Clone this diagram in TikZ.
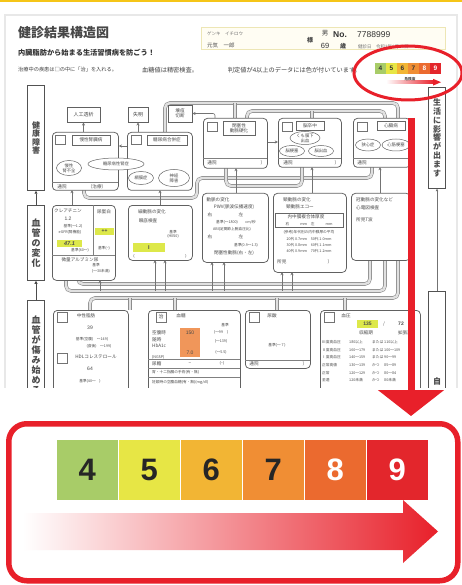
\documentclass[tikz,border=0pt]{standalone}
\usepackage{fontspec}
\setmainfont{Liberation Sans}
\newfontfamily\cjk{Noto Sans CJK JP}
\usetikzlibrary{shapes.geometric,arrows.meta}
\definecolor{c4}{HTML}{A8CC68}
\definecolor{c5}{HTML}{E7E645}
\definecolor{c6}{HTML}{F2B534}
\definecolor{c7}{HTML}{F08E34}
\definecolor{c8}{HTML}{EB6A2F}
\definecolor{c9}{HTML}{E3262C}
\definecolor{redc}{HTML}{E8202A}
\definecolor{topy}{HTML}{F5C518}
\definecolor{hly}{HTML}{DDE84A}
\definecolor{hlo}{HTML}{F0965A}
\definecolor{ink}{HTML}{4A4A4A}
\definecolor{nameb}{HTML}{EDE6B5}
\definecolor{namef}{HTML}{FFFDF3}
\begin{document}
\begin{tikzpicture}[x=1pt,y=-1pt,
  doc/.style={font=\cjk\fontsize{4.6}{5.2}\selectfont, text=ink, inner sep=0pt, align=center},
  docs/.style={font=\cjk\fontsize{3.7}{4.3}\selectfont, text=ink, inner sep=0pt, align=left},
  bx/.style={draw=black!62, line width=0.75pt, rounded corners=4pt, fill=white, inner sep=0pt, anchor=north west},
  chk/.style={draw=black!55, line width=0.5pt, fill=white, minimum size=9.5pt, inner sep=0pt},
  ttl/.style={draw=black!60, line width=0.5pt, fill=white, inner sep=0.6pt, font=\cjk\fontsize{4.6}{5}\selectfont, text=ink, align=center},
  el/.style={ellipse, draw=black!60, line width=0.5pt, fill=white, inner sep=0pt, font=\cjk\fontsize{4.3}{4.8}\selectfont, text=ink, align=center},
  pipe/.style={draw=black!45, double=black!12, double distance=2.4pt, line width=0.6pt, rounded corners=5pt},
  tline/.style={draw=black!50, line width=0.45pt},
  uparr/.style={draw=black!55, line width=0.6pt, -{Stealth[length=3.2pt,width=3pt]}},
  lab/.style={draw=black!68, line width=0.75pt, fill=white, minimum width=17pt, inner sep=0pt, text width=10pt, align=center, font=\cjk\bfseries\fontsize{8}{8.6}\selectfont, text=ink},
  hl/.style={fill=hly, inner sep=0pt, anchor=north west},
]
\useasboundingbox (0,0) rectangle (462,585);
\fill[topy] (0,0) rectangle (462,2.5);
\fill[black!9] (4,14) rectangle (458,388);
\fill[white] (6,16) rectangle (456,388);

\begin{scope}
\clip (6,16) rectangle (456,387);
% ---------- header
\node[anchor=west,inner sep=0pt,font=\cjk\bfseries\fontsize{13}{14}\selectfont,text=black!72] (title) at (18,33) {健診結果構造図};
\node[anchor=west,inner sep=0pt,font=\cjk\bfseries\fontsize{7.2}{8}\selectfont,text=black!80] (sub) at (18,53) {内臓脂肪から始まる生活習慣病を防ごう！};
\node[anchor=west,inner sep=0pt,font=\cjk\fontsize{5.2}{6}\selectfont,text=black!75] (n1) at (18,70) {治療中の疾患は□の中に「治」を入れる。};
\node[anchor=west,inner sep=0pt,font=\cjk\fontsize{6.2}{7}\selectfont,text=black!75] (n2) at (142,70) {血糖値は精密検査。};
\node[anchor=east,inner sep=0pt,font=\cjk\fontsize{6.2}{7}\selectfont,text=black!75] (n3) at (361,70) {判定値が4以上のデータには色が付いています。};
\node[draw=nameb, line width=0.7pt, fill=namef, anchor=north west, minimum width=244pt, minimum height=22pt, inner sep=0pt] (namebox) at (201,27) {};
\node[anchor=west,inner sep=0pt,font=\cjk\fontsize{4.5}{5}\selectfont,text=black!55] (kana) at (207,34) {ゲンキ　イチロウ};
\node[anchor=west,inner sep=0pt,font=\cjk\fontsize{5.5}{6}\selectfont,text=black!70] (nm) at (207,45.5) {元気　一郎};
\node[inner sep=0pt,font=\cjk\bfseries\fontsize{6}{6}\selectfont,text=black!75] (sama) at (310,40) {様};
\node[inner sep=0pt,font=\cjk\fontsize{6.5}{7}\selectfont,text=black!75] (sex) at (325,33.5) {男};
\node[inner sep=0pt,font=\fontsize{7.5}{8}\selectfont,text=black!80] (age) at (325,46) {69};
\node[inner sep=0pt,font=\cjk\bfseries\fontsize{6}{6}\selectfont,text=black!75] (sai) at (343,46) {歳};
\node[anchor=west,inner sep=0pt,font=\bfseries\fontsize{8.5}{9}\selectfont,text=black!80] (no) at (333,35) {No.};
\node[anchor=west,inner sep=0pt,font=\fontsize{8.5}{9}\selectfont,text=black!80] (num) at (357,35) {7788999};
\node[anchor=west,inner sep=0pt,font=\cjk\fontsize{4.5}{5}\selectfont,text=black!55] (date) at (358,47) {健診日　令和3年6月10日};
% small colour strip
\foreach \n/\c/\t [count=\i from 0] in {4/c4/black!80,5/c5/black!80,6/c6/black!80,7/c7/black!80,8/c8/white,9/c9/white}
  \node[fill=\c, minimum width=10.6pt, minimum height=11pt, inner sep=0pt, text=\t, font=\bfseries\fontsize{6.5}{7}\selectfont, anchor=north west] (s\n) at ({375+\i*11},63) {\n};
\shade[left color=white,right color=redc] (386,81) rectangle (434,83.4);
\fill[redc] (433,78.8) -- (441,82.2) -- (433,85.6) -- cycle;
\node[inner sep=0pt,font=\cjk\bfseries\fontsize{3.6}{4}\selectfont,text=black!70] (kiken) at (410,79) {危険度};

% ---------- pipes
\draw[pipe] (165,132) -- (165,103) -- (398,103) -- (398,118);
\draw[pipe] (247,118) -- (247,111) -- (385,111) -- (385,118);
\draw[pipe] (235,103) -- (235,118);
\draw[pipe] (312,111) -- (312,118);
\draw[pipe] (84,190) -- (84,198) -- (197,198) -- (197,178) -- (372,178) -- (372,167);
\draw[pipe] (226,168) -- (226,186) -- (302,186) -- (302,167);
\draw[pipe] (78,280) -- (78,284) -- (370,284) -- (370,260);
\draw[pipe] (66,280) -- (66,291) -- (385,291) -- (385,260);
\draw[pipe] (90,310) -- (90,298) -- (398,298) -- (398,260);
\draw[pipe] (175,310) -- (175,298);
\draw[pipe] (277,310) -- (277,298);
\draw[pipe] (345,310) -- (345,298);
\draw[pipe] (130,310) -- (130,298);

% ---------- left and right labels
\node[lab, minimum height=105pt, anchor=north] (L1) at (36,85) {健\\康\\障\\害};
\node[lab, minimum height=75pt, anchor=north, font=\cjk\bfseries\fontsize{9}{10}\selectfont] (L2) at (36,205) {血\\管\\の\\変\\化};
\node[lab, minimum height=100pt, anchor=north] (L3) at (36,300) {};
\node[inner sep=0pt, anchor=north, text width=10pt, align=center, font=\cjk\bfseries\fontsize{9}{10}\selectfont, text=ink] (L3t) at (36,316) {血\\管\\が\\傷\\み\\始\\め\\る};
\draw[black!70, line width=0.8pt, -{Triangle[length=3pt,width=3pt]}] (L2.north) -- (L1.south);
\draw[black!70, line width=0.8pt, -{Triangle[length=3pt,width=3pt]}] (L3.north) -- (L2.south);
\node[lab, minimum height=101pt, anchor=north, font=\cjk\bfseries\fontsize{8}{8.8}\selectfont] (R1) at (437,87) {生\\活\\に\\影\\響\\が\\出\\ま\\す};
\node[lab, minimum height=100pt, anchor=north] (R2) at (437,291) {};
\node[inner sep=0pt, font=\cjk\bfseries\fontsize{8}{8}\selectfont, text=ink] (R2t) at (437,381) {自};
\draw[black!55, line width=0.6pt, {Triangle[length=2.5pt,width=2.5pt]}-] (R1.south) -- (R2.north);

% ---------- top small boxes
\node[draw=black!62, line width=0.7pt, fill=white, minimum width=33pt, minimum height=15pt, inner sep=0pt, font=\cjk\fontsize{5}{5.5}\selectfont, text=ink] (dial) at (83.5,114.5) {人工透析};
\node[draw=black!62, line width=0.7pt, fill=white, minimum width=20pt, minimum height=15pt, inner sep=0pt, font=\cjk\fontsize{5}{5.5}\selectfont, text=ink] (blind) at (138,114.5) {失明};
\node[draw=black!62, line width=0.7pt, fill=white, minimum width=24pt, minimum height=17pt, inner sep=0pt, align=center, font=\cjk\fontsize{4.6}{5}\selectfont, text=ink] (gang) at (180,113.5) {壊疽\\切断};

% ---------- top row boxes
\node[bx, minimum width=66pt, minimum height=58pt] (ckd) at (52,132) {};
\node[bx, minimum width=65pt, minimum height=58pt] (dmc) at (127,132) {};
\node[bx, minimum width=64pt, minimum height=50pt] (aso) at (203,118) {};
\node[bx, minimum width=63pt, minimum height=49pt] (stroke) at (278,118) {};
\node[bx, minimum width=57pt, minimum height=49pt] (heart) at (353,118) {};

\draw[uparr] (dial.south |- ckd.north) -- (dial.south);
\draw[uparr] (blind.south |- dmc.north) -- (blind.south);
\draw[uparr, rounded corners=2pt] ([xshift=12pt]aso.north west) |- (gang.east);
\draw[uparr] (dmc.west |- 0,146) -- (ckd.east |- 0,146);
\draw[uparr] (aso.east |- 0,142) -- (stroke.west |- 0,142);

% ckd
\node[chk] (k1) at (60,140) {};
\node[ttl, minimum width=38pt, minimum height=10pt] (k2) at (91,140) {慢性腎臓病};
\node[el, minimum width=25pt, minimum height=15pt] (k3) at (69,168) {慢性\\腎不全};
\draw[tline] (52,182) -- (118,182);
\node[doc] (k4) at (62,186.5) {通院};
\node[doc] (k5) at (97,186.5) {（治療）};
% dmc
\node[chk] (d1) at (136,140) {};
\node[ttl, minimum width=40pt, minimum height=10pt] (d2) at (167,140) {糖尿病合併症};
\node[el, minimum width=25pt, minimum height=13pt] (d3) at (141,178) {網膜症};
\node[el, minimum width=31pt, minimum height=17pt] (d4) at (174,178) {神経\\障害};
\node[el, minimum width=56pt, minimum height=12pt] (d5) at (116,164) {糖尿病性腎症};
% aso
\node[chk] (a1) at (212,127) {};
\node[ttl, minimum width=32pt, minimum height=14pt] (a2) at (239,128) {閉塞性\\動脈硬化};
\draw[tline] (203,158) -- (267,158);
\node[doc] (a3) at (212,162.5) {通院};
\node[doc] (a4) at (263,162.5) {）};
% stroke
\node[chk] (st1) at (287,127) {};
\node[ttl, minimum width=28pt, minimum height=9pt] (st2) at (310,125.5) {脳卒中};
\node[el, minimum width=30pt, minimum height=13pt] (st3) at (305,138) {くも膜下\\出血};
\node[el, minimum width=25pt, minimum height=11pt] (st4) at (292,151) {脳梗塞};
\node[el, minimum width=25pt, minimum height=11pt] (st5) at (321,151) {脳出血};
\draw[tline] (278,158) -- (341,158);
\node[doc] (st6) at (288,162.5) {通院};
\node[doc] (st7) at (337,162.5) {）};
% heart
\node[chk] (h1) at (362,127) {};
\node[ttl, minimum width=28pt, minimum height=9pt] (h2) at (391,125.5) {心臓病};
\node[el, minimum width=25pt, minimum height=12pt] (h3) at (368,145) {狭心症};
\node[el, minimum width=28pt, minimum height=12pt] (h4) at (396,145) {心筋梗塞};
\draw[tline] (353,158) -- (410,158);
\node[doc] (h5) at (362,162.5) {通院};

% ---------- middle row boxes
\node[bx, minimum width=63pt, minimum height=75pt] (cre) at (52,205) {};
\node[bx, minimum width=64pt, minimum height=55pt] (fund) at (128,205) {};
\node[bx, minimum width=66pt, minimum height=69pt] (pwv) at (202,193) {};
\node[bx, minimum width=73pt, minimum height=79pt] (car) at (273,193) {};
\node[bx, minimum width=59pt, minimum height=67pt] (ecg) at (351,193) {};

\draw[uparr] (72,205) -- (72,190);
\draw[uparr] (160,205) -- (160,190);
\draw[uparr] (236,193) -- (236,168);
\draw[uparr] (312,193) -- (312,167);
\draw[uparr] (380,193) -- (380,167);
\draw[uparr] (155,291) -- (155,260);
\draw[uparr] (165,291) -- (165,260);
\draw[uparr] (212,291) -- (212,262);
\draw[uparr] (224,291) -- (224,262);
\draw[uparr] (282,291) -- (282,272);
\draw[uparr] (292,291) -- (292,272);
\draw[uparr] (100,291) -- (100,280);

% cre
\draw[tline] (93,205) -- (93,255);
\draw[tline] (52,255) -- (115,255);
\node[doc] (c1) at (68,211) {クレアチニン};
\node[doc, font=\fontsize{5}{5}\selectfont] (c2) at (68,219) {1.2};
\node[docs] (c3) at (73,226) {基準(〜1.2)};
\node[docs] (c4t) at (70,232.5) {eGFR(腎機能)};
\node[hl, minimum width=25pt, minimum height=7pt] (c5t) at (57,240) {};
\node[doc, font=\bfseries\itshape\fontsize{5.5}{5.5}\selectfont] (c6t) at (69.5,243.5) {47.1};
\node[docs] (c7t) at (80,250.5) {基準(60〜)};
\node[doc] (c8t) at (104,212) {尿蛋白};
\node[hl, minimum width=19pt, minimum height=7pt] (c9t) at (95,228) {};
\node[doc, font=\bfseries\fontsize{5}{5}\selectfont] (c10) at (104.5,231.5) {++};
\node[docs] (c11) at (104,248) {基準(−)};
\node[doc] (c12) at (80,259.5) {微量アルブミン尿};
\node[docs] (c13) at (96,265) {基準};
\node[docs] (c14) at (101,271) {(〜30未満)};
% fundus
\node[doc] (f1) at (152,212) {細動脈の変化};
\node[doc] (f2) at (148,221) {眼底検査};
\node[docs, align=center] (f3) at (173,234) {基準\\(H0S0)};
\node[hl, minimum width=32pt, minimum height=9pt] (f4) at (133,243) {};
\node[doc, font=\bfseries\fontsize{5.5}{5.5}\selectfont] (f5) at (149,247.5) {I};
\node[docs] (f6) at (134,256.5) {(};
\node[docs] (f7) at (186,256.5) {)};
% pwv
\node[doc] (p1) at (218,200) {動脈の変化};
\node[doc] (p2) at (234,207.5) {PWV(脈波伝播速度)};
\node[doc] (p3) at (210,215) {右};
\node[doc] (p4) at (241,215) {左};
\node[docs] (p5) at (236,222.5) {基準(〜1800)　　cm/秒};
\node[docs] (p6) at (232,229) {ABI(足関節上腕血圧比)};
\node[doc] (p7) at (210,237) {右};
\node[doc] (p8) at (241,237) {左};
\node[docs] (p9) at (246,245) {基準(0.9〜1.3)};
\node[doc] (p10) at (234,253.5) {閉塞性動脈(右・左)};
% carotid
\node[doc] (r1) at (297,200) {頸動脈の変化};
\node[doc] (r2) at (300,207) {頸動脈エコー};
\node[draw=black!60, line width=0.5pt, anchor=north west, minimum width=68pt, minimum height=14pt, inner sep=0pt] (r3) at (275,213) {};
\node[doc] (r4) at (306,217) {内中膜複合体厚度};
\node[docs] (r5) at (309,224) {右　　　mm　左　　　mm};
\node[docs] (r6) at (309,232) {(参考)年代別の内中膜厚の平均};
\node[docs] (r7) at (309,239) {20代 0.7mm　50代 1.0mm};
\node[docs] (r8) at (309,245) {30代 0.8mm　60代 1.1mm};
\node[docs] (r9) at (309,251) {40代 0.9mm　70代 1.2mm};
\node[doc, anchor=west] (r10) at (277,262) {所見};
\node[doc] (r11) at (330,262) {）};
% ecg
\node[doc, anchor=west] (e1) at (356,200) {冠動脈の変化など};
\node[doc, anchor=west] (e2) at (356,208) {心電図検査};
\node[doc, anchor=west] (e3) at (356,220) {所見T波};

% ---------- bottom row boxes
\node[bx, minimum width=75pt, minimum height=85pt] (tg) at (53,310) {};
\node[bx, minimum width=92pt, minimum height=85pt] (glu) at (148,310) {};
\node[bx, minimum width=65pt, minimum height=58pt] (ua) at (245,310) {};
\node[bx, minimum width=100pt, minimum height=85pt] (bp) at (320,310) {};
% tg
\node[chk] (t1) at (62,317) {};
\node[doc] (t2) at (86,316) {中性脂肪};
\node[doc, font=\fontsize{5}{5}\selectfont] (t3) at (90,328) {39};
\node[docs] (t4) at (92,339) {基準(空腹)　〜149)};
\node[docs] (t5) at (99,346) {(食後)　〜199)};
\node[chk] (t6) at (62,358) {};
\node[doc] (t7) at (96,357) {HDLコレステロール};
\node[doc, font=\fontsize{5}{5}\selectfont] (t8) at (90,369) {64};
\node[docs] (t9) at (90,381) {基準(40〜　)};
% glu
\node[chk, font=\cjk\fontsize{5}{5}\selectfont, text=ink] (g1) at (161,317) {治};
\node[doc] (g2) at (181,316) {血糖};
\node[docs] (g3) at (225,325) {基準};
\node[fill=hlo, anchor=north west, minimum width=20pt, minimum height=29pt, inner sep=0pt] (g4) at (180,328) {};
\node[doc, font=\fontsize{5}{5}\selectfont] (g5) at (190,332.5) {150};
\node[doc, font=\fontsize{5}{5}\selectfont] (g6) at (190,352.5) {7.0};
\node[doc, anchor=west] (g7) at (152,332.5) {空腹時};
\node[doc, anchor=west] (g8) at (152,340) {随時};
\node[doc, anchor=west] (g9) at (152,346) {HbA1c};
\node[docs, anchor=west] (g10) at (152,357) {(NGSP)};
\node[docs] (g11) at (221,332.5) {(〜99　)};
\node[docs] (g12) at (221,341) {(〜139)};
\node[docs] (g13) at (221,352.5) {(〜5.5)};
\draw[tline] (148,359.5) -- (240,359.5);
\node[doc, anchor=west] (g14) at (152,363.5) {尿糖};
\node[doc] (g15) at (190,363.5) {−};
\node[docs] (g16) at (222,363.5) {(−)};
\draw[tline] (148,368) -- (240,368);
\node[docs, anchor=west] (g17) at (152,372.5) {胃・十二指腸の手術(有・無)};
\draw[tline] (148,377) -- (240,377);
\node[docs, anchor=west] (g18) at (152,382) {妊娠時の空腹血糖(有・無)(mg/dl)};
% ua
\node[chk] (u1) at (254,317) {};
\node[doc] (u2) at (272,316) {尿酸};
\node[docs] (u3) at (277,345) {基準(〜 7 )};
\draw[tline] (245,360) -- (310,360);
\node[doc] (u4) at (254,364) {通院};
\node[doc] (u5) at (305,364) {）};
% bp
\node[chk] (b1) at (329,317) {};
\node[doc] (b2) at (346,316) {血圧};
\node[hl, minimum width=21pt, minimum height=7.5pt] (b3) at (357,320) {};
\node[doc, font=\bfseries\fontsize{5}{5}\selectfont] (b4) at (367.5,324) {135};
\node[doc] (b5) at (384,324) {/};
\node[doc, font=\bfseries\fontsize{5}{5}\selectfont] (b6) at (401,324) {72};
\node[doc] (b7) at (366,333) {収縮期};
\node[doc] (b8) at (405,333) {拡張期};
\foreach \lb/\sy/\co/\di [count=\i] in {Ⅲ度高血圧/180以上/または/110以上, Ⅱ度高血圧/160〜179/または/100〜109, Ⅰ度高血圧/140〜159/または/90〜99, 正常高値/130〜139/かつ/85〜89, 正常/120〜129/かつ/80〜84, 至適/120未満/かつ/80未満}
  \node[docs, anchor=west] (bp\i) at (322,{334.3+7.7*\i}) {\makebox[27pt][l]{\lb}\makebox[23pt][l]{\sy}\makebox[12pt][l]{\co}\di};
\end{scope}

% ---------- red highlights
\draw[redc, line width=3pt] (408,73) ellipse [x radius=54pt, y radius=27pt];
\coordinate (rtop) at (411,118);
\coordinate (rbot) at (411,416);
\draw[redc, line width=7pt, -{Triangle[width=65pt,length=26pt]}] (rtop) -- (rbot);

% ---------- callout
\node[draw=redc, line width=5.5pt, rounded corners=18pt, fill=white, anchor=north west, minimum width=449pt, minimum height=157pt, inner sep=0pt] (callout) at (6,421) {};
\foreach \n/\c/\t [count=\i from 0] in {4/c4/black!85,5/c5/black!85,6/c6/black!85,7/c7/black!85,8/c8/white,9/c9/white}
  \node[fill=\c, minimum width=61pt, minimum height=60pt, inner sep=0pt, text=\t, font=\bfseries\fontsize{31}{31}\selectfont, anchor=north west] (B\n) at ({56.5+\i*62},440) {\n};
\shade[left color=white, middle color=redc!45, right color=redc] (23,513) -- (403,513) -- (403,500) -- (438,531.5) -- (403,563) -- (403,550) -- (23,550) -- cycle;
\end{tikzpicture}
\end{document}
